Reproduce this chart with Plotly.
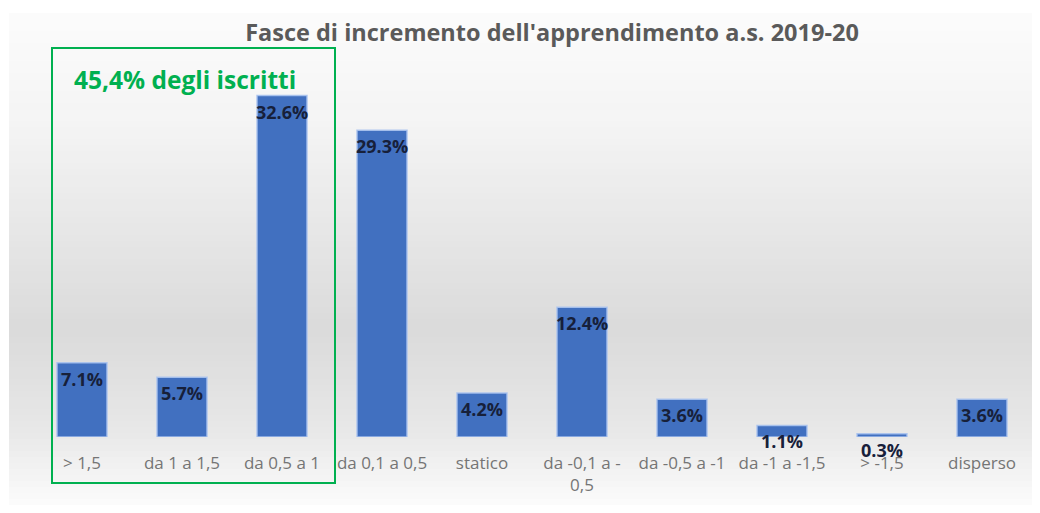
import numpy as np
import plotly.graph_objects as go

categories = ["> 1,5", "da 1 a 1,5", "da 0,5 a 1", "da 0,1 a 0,5", "statico",
              "da -0,1 a -<br>0,5", "da -0,5 a -1", "da -1 a -1,5", "> -1,5", "disperso"]
values = [7.1, 5.7, 32.6, 29.3, 4.2, 12.4, 3.6, 1.1, 0.3, 3.6]
labels = ["7.1%", "5.7%", "32.6%", "29.3%", "4.2%", "12.4%", "3.6%", "1.1%", "0.3%", "3.6%"]

# the page body has an 8px margin, so the figure starts at (8, 8) on screen
OFF = 8
W, H = 1040 - OFF, 513 - OFF
L, R, T, B = 32 - OFF, 1032 - OFF, 60 - OFF, 437 - OFF   # plot area in figure pixels


def px_x(p):
    # screen pixel -> paper coordinate
    return (p - OFF - L) / (R - L)


def px_y(p):
    return (B - (p - OFF)) / (B - T)


def bg_gray(p):
    # vertical gradient of the chart panel: light at top/bottom, grey in the middle
    return int(np.interp(p, [13, 120, 330, 430, 505], [252, 245, 219, 232, 252]))


shapes = []
edges = np.linspace(13, 505, 83)
for a, b in zip(edges[:-1], edges[1:]):
    g = bg_gray((a + b) / 2)
    shapes.append(dict(type="rect", xref="paper", yref="paper", layer="below",
                       x0=px_x(9), x1=px_x(1040), y0=px_y(b), y1=px_y(a),
                       line=dict(width=0), fillcolor=f"rgb({g},{g},{g})"))

# green highlight box
shapes.append(dict(type="rect", xref="paper", yref="paper", layer="above",
                   x0=px_x(52), x1=px_x(335), y0=px_y(483), y1=px_y(48),
                   line=dict(color="#00b050", width=2), fillcolor="rgba(0,0,0,0)"))

fig = go.Figure()
fig.add_trace(go.Bar(
    x=list(range(len(categories))), y=values, width=0.5,
    marker=dict(color="#4170c0", line=dict(color="rgba(170,195,238,0.9)", width=1.5)),
    hoverinfo="skip",
))

annotations = []
for i, (v, t) in enumerate(zip(values, labels)):
    annotations.append(dict(x=i, y=v, text=t, showarrow=False, yanchor="middle",
                            yshift=-16, font=dict(family="Open Sans", size=18, color="#17203a",
                                                  weight="bold")))
annotations.append(dict(xref="paper", yref="paper", x=px_x(72), y=px_y(80),
                        xanchor="left", yanchor="middle", showarrow=False,
                        text="45,4% degli iscritti",
                        font=dict(family="Open Sans", size=24.5, color="#00b050", weight="bold")))

fig.update_layout(
    width=W, height=H,
    margin=dict(l=L, r=W - R, t=T, b=H - B),
    paper_bgcolor="white", plot_bgcolor="rgba(0,0,0,0)",
    showlegend=False,
    title=dict(text="Fasce di incremento dell'apprendimento a.s. 2019-20",
               x=(552 - OFF) / W, xanchor="center", y=1 - (33 - OFF) / H, yanchor="middle",
               font=dict(family="Open Sans", size=23.5, color="#5a5a5a", weight="bold")),
    xaxis=dict(tickmode="array", tickvals=list(range(len(categories))), ticktext=categories,
               range=[-0.5, len(categories) - 0.5], showgrid=False, zeroline=False,
               showline=False, ticks="", ticklabelstandoff=14,
               tickfont=dict(family="Open Sans", size=17, color="#757575")),
    yaxis=dict(range=[0, 36], visible=False, fixedrange=True),
    shapes=shapes, annotations=annotations,
)

fig.write_html("out.html")
